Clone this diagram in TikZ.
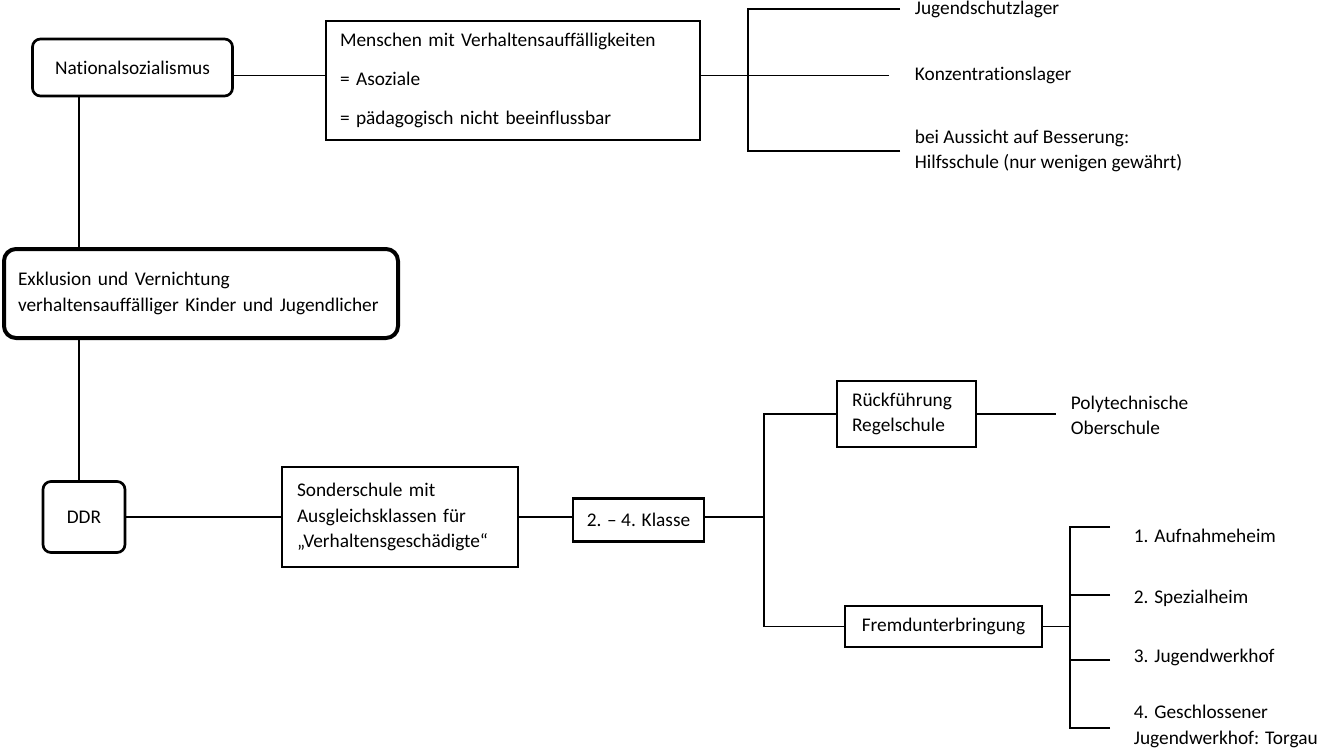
\documentclass[tikz,border=0pt]{standalone}
\usepackage{fontspec}
\setmainfont{Carlito}[Ligatures={TeX,NoCommon}]
\usetikzlibrary{calc}

\begin{document}
\begin{tikzpicture}[x=0.75pt,y=-0.75pt,line width=1.3pt,
	every node/.style={font=\fontsize{14.5pt}{19pt}\selectfont},
	kasten/.style={draw,line width=2pt,inner sep=0pt,align=center},
	rkasten/.style={kasten,rounded corners=6pt},
	txt/.style={anchor=west,inner sep=0pt,align=left}]
      
      \useasboundingbox (0,0) rectangle (1322,750);
      
      %上部
      \node (ns) at (132.5,67.5)[rkasten,minimum width=150pt,minimum height=42.75pt] {Nationalsozialismus};
      \node (mensch) at (513,80.5)[kasten,align=left,text width=259.5pt,inner xsep=10.5pt,minimum height=89.25pt]
      {Menschen mit Verhaltensauffälligkeiten\\[10.5pt]= Asoziale\\[10.5pt]= pädagogisch nicht beeinflussbar};
      \coordinate (k1) at (748,75.5);
      \draw (ns.east |- k1) -- (mensch.west |- k1);
      \draw (mensch.east |- k1) -- (k1);
      
      \foreach \n/\y/\e/\t in {j1/9/900/Jugendschutzlager,j2/75.5/889/Konzentrationslager,
      	j3/151/900/{bei Aussicht auf Besserung:\\Hilfsschule (nur wenigen gewährt)}}  {
      	\coordinate (\n-e) at (\e,\y);
      	\node (\n) at (914,\y)[txt] {\t};
      	\draw (\n-e) -| (k1);
      }
      
      %中部
      \node (exkl) at (201,293.5)[rkasten,rounded corners=9pt,line width=3pt,align=left,text width=274.5pt,inner xsep=10.5pt,minimum height=66.75pt]
      {Exklusion und Vernichtung\\verhaltensauffälliger Kinder und Jugendlicher};
      \coordinate (v) at (79,0);
      \draw (ns.south -| v) -- (exkl.north -| v);
      
      %下部
      \node (ddr) at (84,517)[rkasten,minimum width=61.5pt,minimum height=53.25pt] {DDR};
      \draw (exkl.south -| v) -- (ddr.north -| v);
      \node (sonder) at (400,517)[kasten,align=left,text width=154.5pt,inner xsep=11.25pt,minimum height=75pt]
      {Sonderschule mit\\Ausgleichsklassen für\\„Verhaltensgeschädigte“};
      \node (klasse) at (638.5,520)[kasten,minimum width=98.25pt,minimum height=32.25pt] {2. -- 4. Klasse};
      \coordinate (k2) at (764,517);
      \draw (ddr.east) -- (sonder.west);
      \draw (sonder.east) -- (klasse.west |- sonder.east);
      \draw (klasse.east |- k2) -- (k2);
      
      \node (rueck) at (906.5,414)[kasten,align=left,text width=81.75pt,inner xsep=11.25pt,minimum height=49.5pt] {Rückführung\\Regelschule};
      \node (fremd) at (943.5,626.5)[kasten,minimum width=147.75pt,minimum height=30.75pt] {Fremdunterbringung};
      \draw (rueck.west) -| (k2);
      \draw (fremd.west) -| (k2);
      
      \coordinate (p) at (1056,414);
      \draw (rueck.east) -- (p);
      \node (poly) at (1070,415.5)[txt] {Polytechnische\\Oberschule};
      
      \coordinate (k3) at (1070,626.5);
      \draw (fremd.east) -- (k3);
      \foreach \i/\y/\ty/\t in {1/527/536/{1. Aufnahmeheim},2/595/598/{2. Spezialheim},
      	3/660/657/{3. Jugendwerkhof},4/728/726.5/{4. Geschlossener\\Jugendwerkhof: Torgau}}  {
      	\coordinate (e\i) at (1110,\y);
      	\node (h\i) at (1133,\ty)[txt] {\t};
      	\draw (e\i) -| (k3);
      }
      
      \end{tikzpicture}
\end{document}
